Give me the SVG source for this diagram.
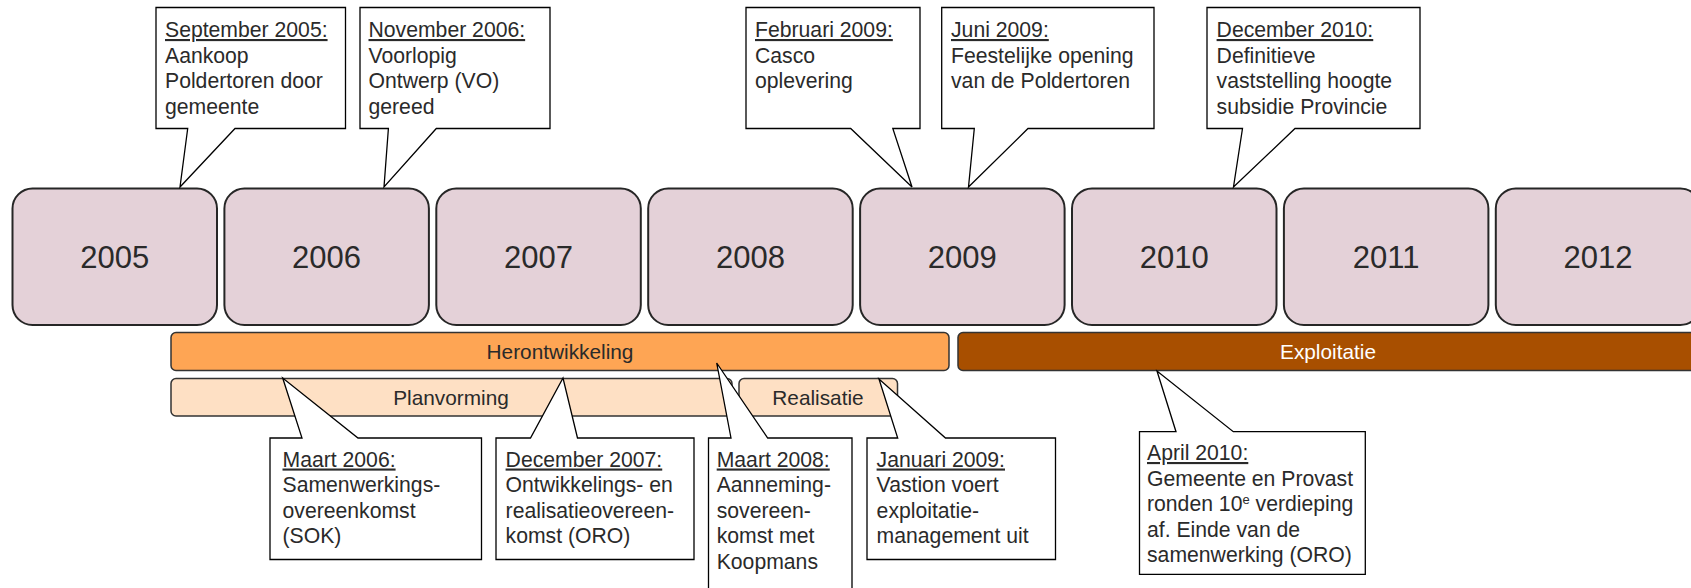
<svg xmlns="http://www.w3.org/2000/svg" width="1691" height="588" viewBox="0 0 1691 588">
<style>
text{font-family:"Liberation Sans",Arial,sans-serif;fill:#2a2a2a;}
.yr{fill:#e4d1d8;stroke:#262626;stroke-width:2;}
.yt{font-size:31px;text-anchor:middle;}
.bar{stroke:#333;stroke-width:1.5;}
.bt{font-size:20.8px;text-anchor:middle;}
.co{fill:#fff;stroke:#000;stroke-width:1.3;stroke-linejoin:miter;}
.ct{font-size:21.2px;}
.u{text-decoration:underline;}
</style>
<rect width="1691" height="588" fill="#fff"/>
<g id="years">
<g id="y2005"><rect class="yr" x="12.5" y="188.5" width="204.5" height="136.5" rx="20"/><text class="yt" x="114.7" y="268">2005</text></g>
<g id="y2006"><rect class="yr" x="224.4" y="188.5" width="204.5" height="136.5" rx="20"/><text class="yt" x="326.6" y="268">2006</text></g>
<g id="y2007"><rect class="yr" x="436.3" y="188.5" width="204.5" height="136.5" rx="20"/><text class="yt" x="538.5" y="268">2007</text></g>
<g id="y2008"><rect class="yr" x="648.2" y="188.5" width="204.5" height="136.5" rx="20"/><text class="yt" x="750.4" y="268">2008</text></g>
<g id="y2009"><rect class="yr" x="860.1" y="188.5" width="204.5" height="136.5" rx="20"/><text class="yt" x="962.3" y="268">2009</text></g>
<g id="y2010"><rect class="yr" x="1072" y="188.5" width="204.5" height="136.5" rx="20"/><text class="yt" x="1174.2" y="268">2010</text></g>
<g id="y2011"><rect class="yr" x="1283.9" y="188.5" width="204.5" height="136.5" rx="20"/><text class="yt" x="1386.1" y="268">2011</text></g>
<g id="y2012"><rect class="yr" x="1495.8" y="188.5" width="204.5" height="136.5" rx="20"/><text class="yt" x="1598" y="268">2012</text></g>
</g>
<g id="phases">
<g id="herontwikkeling"><rect class="bar" x="171" y="332.5" width="778" height="38" rx="5" fill="#fea554"/><text class="bt" x="560" y="359">Herontwikkeling</text></g>
<g id="exploitatie"><rect class="bar" x="958" y="332.5" width="750" height="38" rx="5" fill="#a84f00"/><text class="bt" x="1328" y="359" style="fill:#fff">Exploitatie</text></g>
<g id="planvorming"><rect class="bar" x="171" y="378.5" width="561" height="37.5" rx="5" fill="#fee0c4"/><text class="bt" x="451" y="405">Planvorming</text></g>
<g id="realisatie"><rect class="bar" x="739" y="378.5" width="158.5" height="37.5" rx="5" fill="#fee0c4"/><text class="bt" x="818" y="405">Realisatie</text></g>
</g>
<g id="connectors">
<path class="co" d="M156,7.5 H345.5 V128.5 H235 L180,187 L187.7,128.5 H156 Z"/>
<path class="co" d="M360,7.5 H550 V128.5 H436.3 L384,187 L388.4,128.5 H360 Z"/>
<path class="co" d="M746,7.5 H920 V128.5 H892.8 L912,187 L850.7,128.5 H746 Z"/>
<path class="co" d="M941.7,7.5 H1154 V128.5 H1028 L968.5,187 L974.3,128.5 H941.7 Z"/>
<path class="co" d="M1207,7.5 H1420 V128.5 H1295 L1233.5,187 L1242.5,128.5 H1207 Z"/>
<path class="co" d="M270,438 H302 L282.7,378 L358,438 H481.5 V559.5 H270 Z"/>
<path class="co" d="M496,438 H530.5 L563,378 L577.5,438 H694 V559.5 H496 Z"/>
<path class="co" d="M708.5,438 H731 L716.7,363 L767.7,438 H852 V600 H708.5 Z"/>
<path class="co" d="M867,438 H897.7 L879,379 L945.5,438 H1055.5 V559.5 H867 Z"/>
<path class="co" d="M1139.5,431.7 H1176 L1157,371 L1233.3,431.7 H1365.3 V574.3 H1139.5 Z"/>
</g>
<g id="n-sep2005"><text class="ct" x="165" y="37"><tspan class="u">September 2005:</tspan><tspan x="165" dy="25.5">Aankoop</tspan><tspan x="165" dy="25.5">Poldertoren door</tspan><tspan x="165" dy="25.5">gemeente</tspan></text></g>
<g id="n-nov2006"><text class="ct" x="368.5" y="37"><tspan class="u">November 2006:</tspan><tspan x="368.5" dy="25.5">Voorlopig</tspan><tspan x="368.5" dy="25.5">Ontwerp (VO)</tspan><tspan x="368.5" dy="25.5">gereed</tspan></text></g>
<g id="n-feb2009"><text class="ct" x="755" y="37"><tspan class="u">Februari 2009:</tspan><tspan x="755" dy="25.5">Casco</tspan><tspan x="755" dy="25.5">oplevering</tspan></text></g>
<g id="n-jun2009"><text class="ct" x="951" y="37"><tspan class="u">Juni 2009:</tspan><tspan x="951" dy="25.5">Feestelijke opening</tspan><tspan x="951" dy="25.5">van de Poldertoren</tspan></text></g>
<g id="n-dec2010"><text class="ct" x="1216.6" y="37"><tspan class="u">December 2010:</tspan><tspan x="1216.6" dy="25.5">Definitieve</tspan><tspan x="1216.6" dy="25.5">vaststelling hoogte</tspan><tspan x="1216.6" dy="25.5">subsidie Provincie</tspan></text></g>
<g id="n-mrt2006"><text class="ct" x="282.5" y="466.5"><tspan class="u">Maart 2006:</tspan><tspan x="282.5" dy="25.5">Samenwerkings-</tspan><tspan x="282.5" dy="25.5">overeenkomst</tspan><tspan x="282.5" dy="25.5">(SOK)</tspan></text></g>
<g id="n-dec2007"><text class="ct" x="505.6" y="466.5"><tspan class="u">December 2007:</tspan><tspan x="505.6" dy="25.5">Ontwikkelings- en</tspan><tspan x="505.6" dy="25.5">realisatieovereen-</tspan><tspan x="505.6" dy="25.5">komst (ORO)</tspan></text></g>
<g id="n-mrt2008"><text class="ct" x="716.7" y="466.5"><tspan class="u">Maart 2008:</tspan><tspan x="716.7" dy="25.5">Aanneming-</tspan><tspan x="716.7" dy="25.5">sovereen-</tspan><tspan x="716.7" dy="25.5">komst met</tspan><tspan x="716.7" dy="25.5">Koopmans</tspan></text></g>
<g id="n-jan2009"><text class="ct" x="876.6" y="466.5"><tspan class="u">Januari 2009:</tspan><tspan x="876.6" dy="25.5">Vastion voert</tspan><tspan x="876.6" dy="25.5">exploitatie-</tspan><tspan x="876.6" dy="25.5">management uit</tspan></text></g>
<g id="n-apr2010"><text class="ct" x="1147" y="460"><tspan class="u">April 2010:</tspan><tspan x="1147" dy="25.5">Gemeente en Provast</tspan><tspan x="1147" dy="25.5">ronden 10</tspan><tspan dy="-7" font-size="13px">e</tspan><tspan dy="7"> verdieping</tspan><tspan x="1147" dy="25.5">af. Einde van de</tspan><tspan x="1147" dy="25.5">samenwerking (ORO)</tspan></text></g>
</svg>
